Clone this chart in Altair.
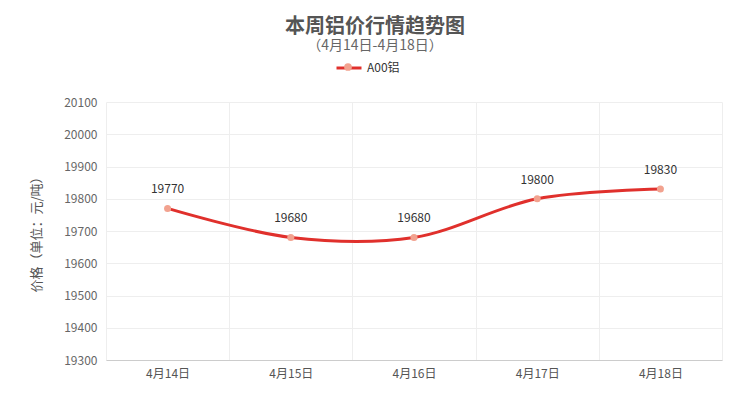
import altair as alt
import pandas as pd

dates = ["4月14日", "4月15日", "4月16日", "4月17日", "4月18日"]
prices = [19770, 19680, 19680, 19800, 19830]
series_name = "A00铝"
y_ticks = [19300, 19400, 19500, 19600, 19700, 19800, 19900, 20000, 20100]

df = pd.DataFrame({"date": dates, "price": prices, "series": [series_name] * len(dates)})

FONT = "Noto Sans CJK SC"
LINE_COLOR = "#e0302c"
POINT_COLOR = "#f2a28f"

x = alt.X(
    "date:N", sort=dates, title=None,
    scale=alt.Scale(type="band", paddingInner=0, paddingOuter=0),
    axis=alt.Axis(tickBand="extent", grid=True, gridColor="#eeeeee", ticks=False,
                  labelAngle=0, labelPadding=8, labelFontSize=12, labelColor="#555555",
                  labelFont=FONT, domainColor="#cccccc"),
)
y = alt.Y(
    "price:Q", title="价格（单位：元/吨）",
    scale=alt.Scale(domain=[19300, 20100], nice=False, zero=False),
    axis=alt.Axis(values=y_ticks, format="d", grid=True, gridColor="#eeeeee", ticks=False, domain=False,
                  labelPadding=9, labelFontSize=12, labelColor="#666666", labelFont=FONT,
                  titleFont=FONT, titleFontSize=13, titleColor="#555555", titleFontWeight="normal",
                  titlePadding=20),
)

line = alt.Chart(df).mark_line(interpolate="catmull-rom", strokeWidth=3).encode(
    x=x, y=y,
    stroke=alt.Stroke("series:N", scale=alt.Scale(range=[LINE_COLOR]),
                      legend=alt.Legend(orient="none", legendX=229, legendY=-48, title=None,
                                        symbolType="stroke", symbolSize=625, symbolStrokeWidth=3,
                                        labelFont=FONT, labelFontSize=12, labelColor="#333333",
                                        padding=0, labelOffset=4)),
)
points = alt.Chart(df).mark_circle(size=50, opacity=1).encode(
    x=x, y=y,
    fill=alt.Fill("series:N", scale=alt.Scale(range=[POINT_COLOR]),
                  legend=alt.Legend(orient="none", legendX=237, legendY=-40, title=None,
                                    symbolType="circle", symbolSize=60, symbolStrokeWidth=0,
                                    labelExpr="''", padding=0)),
)
labels = alt.Chart(df).mark_text(dy=-19, fontSize=12, color="#333333", font=FONT).encode(
    x=x, y=y, text="price:Q",
)

chart = alt.layer(line, points, labels).properties(
    width=616, height=258,
    autosize="none",
    padding={"left": 98, "top": 94, "right": 20, "bottom": 44},
    title=alt.Title("本周铝价行情趋势图", subtitle="（4月14日-4月18日）",
                    font=FONT, fontSize=20, fontWeight="bold", color="#555555",
                    subtitleFont=FONT, subtitleFontSize=14, subtitleColor="#666666",
                    subtitlePadding=2, anchor="middle", dx=-39, offset=1),
).configure_view(stroke=None)

chart.save("out.html", embed_options={"renderer": "svg", "actions": False})
